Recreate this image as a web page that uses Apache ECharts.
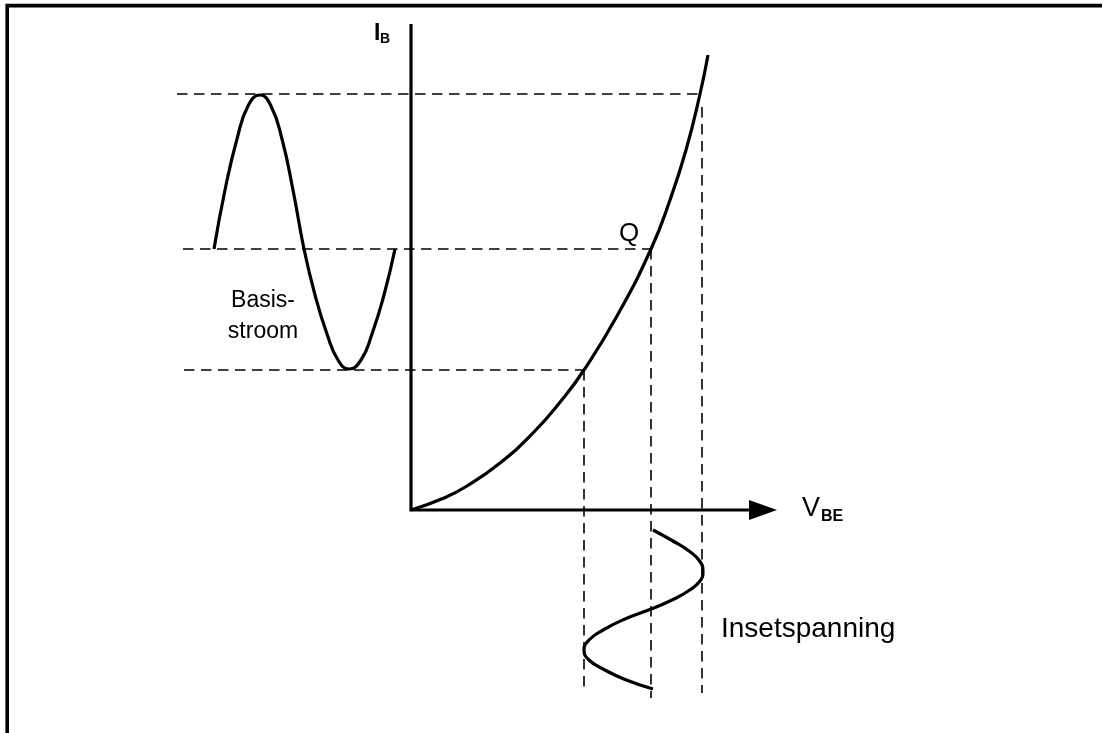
<!DOCTYPE html>
<html>
<head>
<meta charset="utf-8">
<title>Ingangskarakteristiek</title>
<script src="https://cdn.jsdelivr.net/npm/echarts@6/dist/echarts.min.js"></script>
<style>
  html, body { margin: 0; padding: 0; background: #fff; }
  #chart { width: 1102px; height: 733px; }
</style>
</head>
<body>
<div id="chart"></div>
<script>
  // IB-VBE curve (diagram units)
  var curveVBE = [0, 3.3, 5.6, 8.9, 12.2, 15.0, 17.3, 20.6, 24.0, 25.9, 27.5, 28.9, 29.7];
  var curveIB = [0, 1.2, 2.4, 4.7, 7.7, 10.9, 14.0, 19.4, 26.1, 31.0, 36.0, 41.6, 45.5];

  // base current wave, drawn left of the IB axis
  var baseT = [-19.7, -18.6, -17.4, -16.3, -15.1, -14.0, -12.9, -11.8, -10.7, -9.6, -8.4, -7.3, -6.2, -5.0, -3.9, -2.7, -1.6];
  var baseI = [26.1, 32.0, 37.1, 40.4, 41.5, 40.4, 37.1, 32.0, 26.1, 21.5, 17.6, 15.0, 14.1, 15.0, 17.6, 21.5, 26.1];

  // input voltage wave, drawn below the VBE axis
  var inputT = [-2.0, -3.05, -4.1, -5.15, -6.2, -7.1, -8.05, -9.0, -9.9, -10.9, -11.95, -13.0, -14.0, -15.0, -15.95, -16.95, -17.9];
  var inputV = [24.2, 26.1, 27.8, 28.9, 29.2, 28.9, 27.8, 26.1, 24.0, 21.4, 19.3, 17.8, 17.3, 17.8, 19.3, 21.4, 24.2];

  // dashed guide lines: horizontal (IB levels) and vertical (VBE levels)
  var hLevel = [41.6, 26.1, 14.0];
  var hFrom = [-23.4, -22.8, -22.7];
  var hTo = [28.9, 24.0, 17.3];
  var vLevel = [17.3, 24.0, 29.1];
  var vFrom = [14.0, 26.1, 40.3];
  var vTo = [-18.0, -18.8, -18.3];

  // axes of the diagram
  var axisTop = 48.6;
  var axisEnd = 35.2;

  var FONT = '"Liberation Sans", Arial, Helvetica, sans-serif';

  function zip(xs, ys) {
    return xs.map(function (x, i) { return [x, ys[i]]; });
  }

  var solid = { color: '#000', width: 3.2 };

  var series = [
    {
      type: 'line', symbol: 'none', silent: true,
      lineStyle: { color: '#000', width: 3.2, join: 'miter' },
      data: [[0, axisTop], [0, 0], [axisEnd, 0]]
    },
    {
      type: 'scatter', silent: true,
      symbol: 'triangle', symbolSize: [20, 28], symbolRotate: -90,
      itemStyle: { color: '#000', opacity: 1 },
      data: [[axisEnd, 0]]
    },
    { type: 'line', symbol: 'none', smooth: true, silent: true, lineStyle: solid, data: zip(curveVBE, curveIB) },
    { type: 'line', symbol: 'none', smooth: true, silent: true, lineStyle: solid, data: zip(baseT, baseI) },
    { type: 'line', symbol: 'none', smooth: true, silent: true, lineStyle: solid, data: zip(inputV, inputT) }
  ];

  var dashed = { color: '#000', width: 1.6, type: [10.5, 6.5] };
  hLevel.forEach(function (y, i) {
    series.push({ type: 'line', symbol: 'none', silent: true, z: 1, lineStyle: dashed, data: [[hFrom[i], y], [hTo[i], y]] });
  });
  vLevel.forEach(function (x, i) {
    series.push({ type: 'line', symbol: 'none', silent: true, z: 1, lineStyle: dashed, data: [[x, vFrom[i]], [x, vTo[i]]] });
  });

  function label(text, x, y, size, opts) {
    opts = opts || {};
    return {
      type: 'text', x: x, y: y, silent: true,
      style: {
        text: text,
        font: (opts.bold ? 'bold ' : '') + size + 'px ' + FONT,
        fill: '#000',
        textAlign: opts.align || 'left',
        textVerticalAlign: 'middle'
      }
    };
  }

  var chart = echarts.init(document.getElementById('chart'));
  chart.setOption({
    animation: false,
    backgroundColor: '#fff',
    grid: { left: 11, top: 10, width: 1000, height: 700 },
    xAxis: { type: 'value', min: -40, max: 60, show: false },
    yAxis: { type: 'value', min: -20, max: 50, show: false },
    graphic: [
      {
        type: 'rect', silent: true,
        shape: { x: 7.2, y: 5.6, width: 1400, height: 1000 },
        style: { fill: 'none', stroke: '#000', lineWidth: 3.6 }
      },
      label('I', 374, 34, 23, { bold: true }),
      label('B', 380, 39, 14, { bold: true }),
      label('V', 802, 509, 27),
      label('BE', 821, 517, 16, { bold: true }),
      label('Q', 619, 234, 26),
      label('Basis-', 263, 301, 23, { align: 'center' }),
      label('stroom', 263, 332, 23, { align: 'center' }),
      label('Insetspanning', 721, 629, 28)
    ],
    series: series
  });
</script>
</body>
</html>
